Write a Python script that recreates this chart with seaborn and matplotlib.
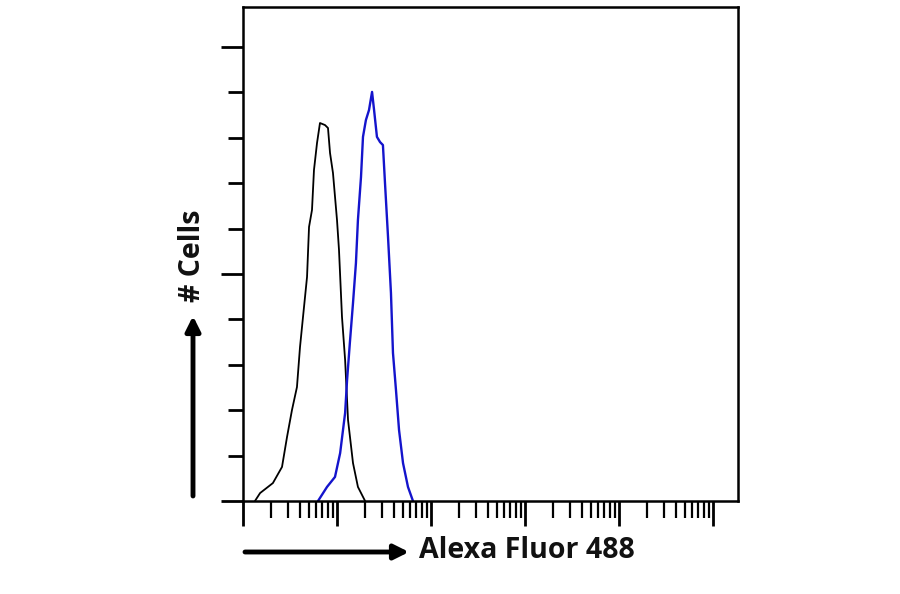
import numpy as np
import pandas as pd
import matplotlib
matplotlib.use("Agg")
import matplotlib.pyplot as plt
import seaborn as sns
from matplotlib.ticker import LogLocator, MultipleLocator, NullFormatter

# Control (isotype) histogram: fluorescence intensity vs cell count
control_x = [1.34, 1.52, 2.08, 2.60, 2.94, 3.32, 3.75, 4.04, 4.35, 4.80, 5.04, 5.42, 5.69,
             6.13, 6.59, 7.45, 8.02, 8.43, 9.06, 10.0, 10.5, 11.3, 12.2, 13.1, 14.8, 16.7, 19.9]
control_y = [0, 3.5, 7.9, 15.0, 28.2, 40.1, 50.2, 67.8, 81.1, 98.7, 120.7, 128.2, 145.8,
             157.7, 166.5, 165.6, 164.3, 153.3, 144.5, 123.8, 110.6, 81.1, 62.1, 35.7, 16.7, 6.2, 0]

# Stained sample histogram
stained_x = [6.28, 7.83, 9.52, 10.8, 12.2, 12.8, 13.7, 14.8, 15.9, 16.7, 18.0, 18.9, 20.3, 21.9,
             23.6, 24.8, 26.6, 28.7, 30.8, 32.4, 34.9, 37.5, 39.4, 42.4, 45.7, 50.4, 56.9, 64.3]
stained_y = [0, 6.2, 10.6, 21.1, 38.8, 53.3, 69.6, 87.2, 104.8, 123.8, 142.7, 160.4, 167.8, 172.2,
             180.2, 172.2, 160.4, 158.1, 156.8, 140.1, 116.3, 91.6, 65.2, 48.9, 31.3, 16.7, 6.2, 0]

x_label = "Alexa Fluor 488"
y_label = "# Cells"

sns.set_style("white")
plt.rcParams['font.family'] = ['Open Sans', 'DejaVu Sans']

fig = plt.figure(figsize=(9, 5.94), dpi=100)
W, H = 900, 594
ax = fig.add_axes([243 / W, (H - 501) / H, (738 - 243) / W, (501 - 7) / H])

df_c = pd.DataFrame({"x": control_x, "y": control_y})
df_s = pd.DataFrame({"x": stained_x, "y": stained_y})
sns.lineplot(data=df_c, x="x", y="y", ax=ax, color="black", lw=1.3, estimator=None)
sns.lineplot(data=df_s, x="x", y="y", ax=ax, color="#1414cc", lw=1.7, estimator=None)

ax.set_xscale("log")
ax.set_xlim(1, 10 ** 5.266)
ax.set_ylim(0, 217.6)

ax.xaxis.set_major_locator(LogLocator(base=10, numticks=10))
ax.xaxis.set_minor_locator(LogLocator(base=10, subs=np.arange(2, 10), numticks=100))
ax.xaxis.set_major_formatter(NullFormatter())
ax.xaxis.set_minor_formatter(NullFormatter())
ax.yaxis.set_major_locator(MultipleLocator(100))
ax.yaxis.set_minor_locator(MultipleLocator(20))
ax.yaxis.set_major_formatter(NullFormatter())

ax.tick_params(axis="x", which="major", direction="out", length=18, width=2, color="black")
ax.tick_params(axis="x", which="minor", direction="out", length=12, width=1.6, color="black")
ax.tick_params(axis="y", which="major", direction="out", length=16, width=2, color="black")
ax.tick_params(axis="y", which="minor", direction="out", length=11, width=2, color="black")
ax.tick_params(bottom=True, left=True, which="both")

for s in ax.spines.values():
    s.set_color("black")
    s.set_linewidth(1.8)
ax.set_xlabel("")
ax.set_ylabel("")

# Axis labels with arrows (figure pixel coordinates)
def fp(x, y):
    return (x / W, (H - y) / H)

ax.annotate("", xy=fp(409, 552), xytext=fp(245, 552), xycoords="figure fraction",
            textcoords="figure fraction",
            arrowprops=dict(arrowstyle="-|>", lw=3.5, color="black",
                            mutation_scale=22, shrinkA=0, shrinkB=0))
fig.text(*fp(419, 551), x_label, fontsize=20.5, fontweight="bold", ha="left", va="center",
         color="#111111")

ax.annotate("", xy=fp(193, 316), xytext=fp(193, 496), xycoords="figure fraction",
            textcoords="figure fraction",
            arrowprops=dict(arrowstyle="-|>", lw=3.5, color="black",
                            mutation_scale=22, shrinkA=0, shrinkB=0))
fig.text(*fp(193, 256), y_label, fontsize=20.5, fontweight="bold", ha="center", va="center",
         rotation=90, color="#111111")

fig.savefig("out.png", dpi=100, facecolor="white")
